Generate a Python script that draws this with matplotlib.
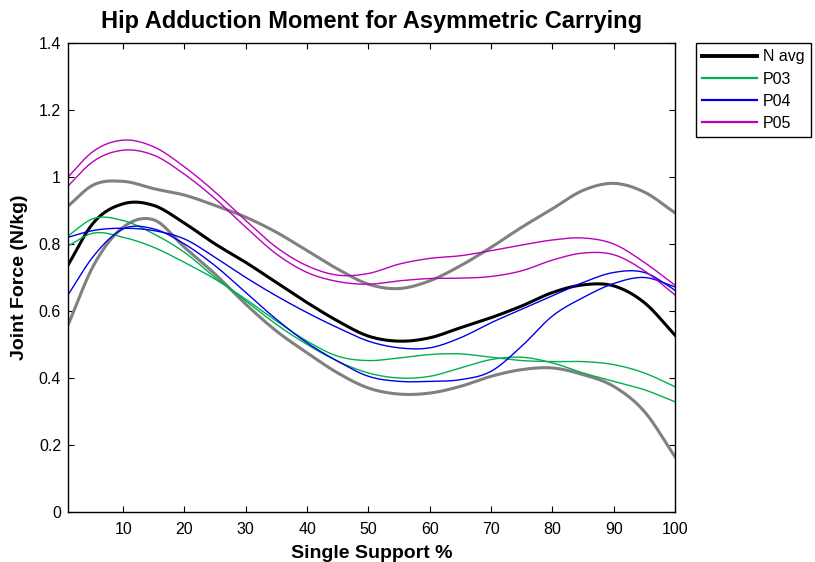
import matplotlib.pyplot as plt
import numpy as np

plt.rcParams['font.family'] = ['Liberation Sans', 'DejaVu Sans']

# Sample points (Single Support %) used for all curves
pct = [1, 5, 10, 15, 20, 25, 30, 35, 40, 45, 50, 55, 60, 65, 70, 75, 80, 85, 90, 95, 100]

# Normal average and +/- 1 SD band
n_avg = [0.737, 0.86, 0.92, 0.915, 0.862, 0.80, 0.745, 0.685, 0.625, 0.57, 0.525, 0.51,
         0.52, 0.55, 0.58, 0.615, 0.655, 0.678, 0.675, 0.625, 0.528]
n_upper = [0.913, 0.975, 0.987, 0.965, 0.946, 0.915, 0.88, 0.835, 0.78, 0.725, 0.68, 0.667,
           0.69, 0.735, 0.79, 0.85, 0.905, 0.96, 0.981, 0.955, 0.893]
n_lower = [0.558, 0.73, 0.85, 0.872, 0.79, 0.71, 0.62, 0.54, 0.475, 0.415, 0.37, 0.352,
           0.355, 0.375, 0.405, 0.425, 0.43, 0.41, 0.375, 0.30, 0.165]

# Patients (two trials each)
p03_a = [0.794, 0.832, 0.82, 0.79, 0.745, 0.695, 0.635, 0.57, 0.51, 0.465, 0.452, 0.46,
         0.47, 0.472, 0.462, 0.452, 0.449, 0.449, 0.44, 0.415, 0.374]
p03_b = [0.824, 0.875, 0.87, 0.83, 0.775, 0.70, 0.63, 0.56, 0.50, 0.45, 0.415, 0.40,
         0.405, 0.43, 0.455, 0.462, 0.445, 0.415, 0.39, 0.365, 0.329]
p04_a = [0.82, 0.84, 0.847, 0.84, 0.815, 0.76, 0.70, 0.645, 0.595, 0.55, 0.51, 0.49,
         0.49, 0.52, 0.565, 0.605, 0.645, 0.685, 0.715, 0.715, 0.662]
p04_b = [0.648, 0.76, 0.845, 0.845, 0.80, 0.735, 0.655, 0.575, 0.505, 0.45, 0.405, 0.39,
         0.39, 0.395, 0.42, 0.495, 0.585, 0.64, 0.682, 0.70, 0.672]
p05_a = [1.0, 1.075, 1.11, 1.09, 1.03, 0.955, 0.87, 0.79, 0.735, 0.707, 0.712, 0.74,
         0.757, 0.765, 0.78, 0.797, 0.812, 0.818, 0.80, 0.745, 0.677]
p05_b = [0.973, 1.045, 1.08, 1.065, 1.008, 0.935, 0.85, 0.77, 0.715, 0.688, 0.68, 0.69,
         0.697, 0.698, 0.703, 0.72, 0.752, 0.773, 0.768, 0.72, 0.648]


def smooth(x, y):
    # cubic Hermite spline through the read points
    x = np.asarray(x, float)
    y = np.asarray(y, float)
    xs = np.linspace(x[0], x[-1], 400)
    ys = np.zeros_like(xs)
    m = np.gradient(y, x)
    for i in range(len(x) - 1):
        sel = (xs >= x[i]) & (xs <= x[i + 1])
        h = x[i + 1] - x[i]
        t = (xs[sel] - x[i]) / h
        h00 = 2 * t**3 - 3 * t**2 + 1
        h10 = t**3 - 2 * t**2 + t
        h01 = -2 * t**3 + 3 * t**2
        h11 = t**3 - t**2
        ys[sel] = h00 * y[i] + h10 * h * m[i] + h01 * y[i + 1] + h11 * h * m[i + 1]
    return xs, ys


fig = plt.figure(figsize=(8.15, 5.62), dpi=100)
ax = fig.add_axes([68 / 815, 50 / 562, 607 / 815, 469 / 562])

green = '#00b050'
blue = '#0000e6'
magenta = '#bb00bb'
grey = '#808080'

ax.plot(*smooth(pct, n_upper), color=grey, lw=2.2)
ax.plot(*smooth(pct, n_lower), color=grey, lw=2.2)
ax.plot(*smooth(pct, n_avg), color='black', lw=2.2, label='N avg')
ax.plot(*smooth(pct, p03_a), color=green, lw=1.0, label='P03')
ax.plot(*smooth(pct, p03_b), color=green, lw=1.0)
ax.plot(*smooth(pct, p04_a), color=blue, lw=1.0, label='P04')
ax.plot(*smooth(pct, p04_b), color=blue, lw=1.0)
ax.plot(*smooth(pct, p05_a), color=magenta, lw=1.0, label='P05')
ax.plot(*smooth(pct, p05_b), color=magenta, lw=1.0)

ax.set_xlim(1, 100)
ax.set_ylim(0, 1.4)
ax.set_xticks(range(10, 101, 10))
ax.set_yticks([0, 0.2, 0.4, 0.6, 0.8, 1.0, 1.2, 1.4])
ax.set_yticklabels(['0', '0.2', '0.4', '0.6', '0.8', '1', '1.2', '1.4'])
ax.tick_params(direction='in', top=True, right=True, length=4, labelsize=11.5)
ax.tick_params(axis='x', pad=7)
ax.tick_params(axis='y', pad=5)
for s in ax.spines.values():
    s.set_linewidth(1.0)

ax.set_title('Hip Adduction Moment for Asymmetric Carrying', fontsize=17, fontweight='bold', pad=11)
ax.set_xlabel('Single Support %', fontsize=14, fontweight='bold', labelpad=6)
ax.set_ylabel('Joint Force (N/kg)', fontsize=14, fontweight='bold', labelpad=8)

leg = ax.legend(loc='upper left', bbox_to_anchor=(696 / 815, 1 - 43 / 562),
                bbox_transform=fig.transFigure, borderaxespad=0, fontsize=11.5,
                handlelength=3.4, handletextpad=0.4, borderpad=0.4, labelspacing=0.45,
                fancybox=False, edgecolor='black', framealpha=1)
leg.get_frame().set_linewidth(1.0)
for line in leg.get_lines():
    line.set_linewidth(2.8 if line.get_color() == 'black' else 1.6)

fig.savefig('out.png', dpi=100)
